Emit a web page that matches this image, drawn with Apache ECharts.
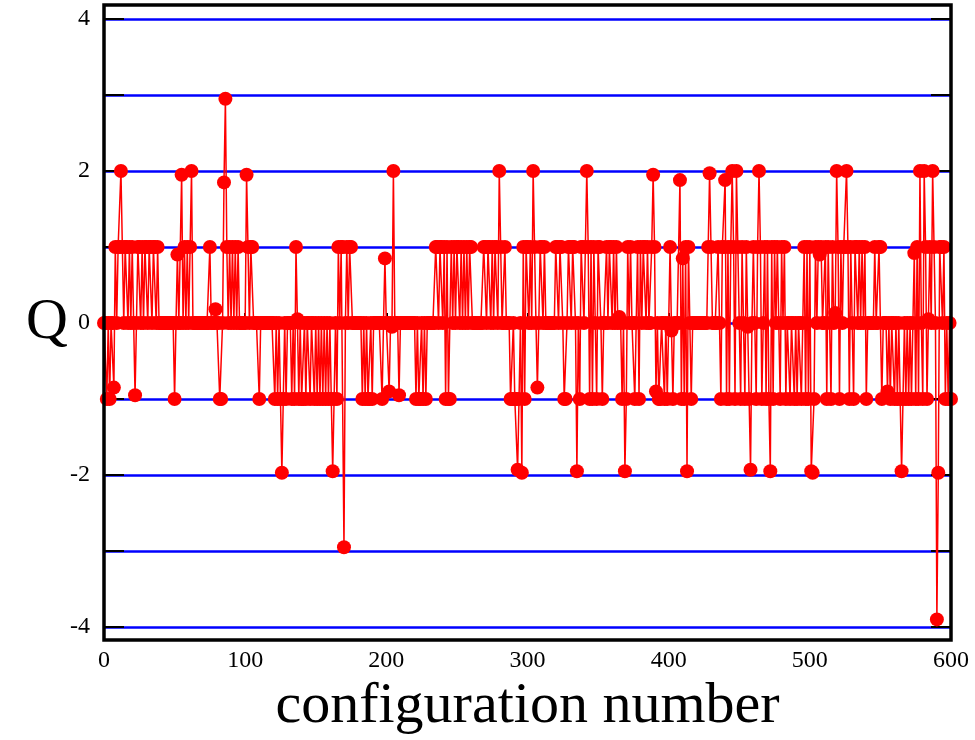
<!DOCTYPE html>
<html>
<head>
<meta charset="utf-8">
<script src="https://cdn.jsdelivr.net/npm/echarts@6/dist/echarts.min.js"></script>
<style>html,body{margin:0;padding:0;background:#fff;}#c{width:975px;height:740px;}</style>
</head>
<body>
<div id="c"></div>
<script>
// Topological charge Q per configuration (configuration number = index 0..600)
const qValues = [
  0, 0, -1, 0, -1, 0, 0, -0.85, 1, 0,
  1, 1, 2, 1, 0, 1, 1, 0, 1, 0,
  1, 0, -0.95, 0, 1, 1, 0, 1, 0, 1,
  1, 0, 1, 1, 0, 1, 1, 0, 1, 0,
  0, 0, 0, 0, 0, 0, 0, 0, 0, 0,
  -1, 0, 0.9, 0, 0, 1.95, 0, 1, 0, 1,
  0, 1, 2, 0, 0, 0, 0, 0, 0, 0,
  0, 0, 0, 0, 0, 1, 0, 0, 0, 0.18,
  0, 0, -1, -1, 0, 1.85, 2.95, 1, 0, 1,
  0, 1, 0, 1, 0, 1, 0, 0, 0, 0,
  0, 1.95, 1, 0, 1, 1, 0, 0, 0, 0,
  -1, 0, 0, 0, 0, 0, 0, 0, 0, 0,
  0, -1, 0, -1, 0, -1, -1.97, -1, 0, -1,
  0, 0, 0, -1, 0, -1, 1, 0.05, -1, 0,
  -1, -1, 0, -1, 0, 0, -1, 0, 0, -1,
  0, -1, 0, -1, 0, -1, 0, -1, 0, -1,
  0, -1, -1.95, -1, 0, -1, 1, 0, 1, 1,
  -2.95, 0, 1, 0, 1, 1, 0, 0, 0, 0,
  0, 0, 0, -1, 0, -1, 0, -1, -1, 0,
  -1, 0, 0, 0, 0, 0, 0, -1, 0, 0.85,
  0, 0, -0.9, 0, -0.05, 2, 0, 0, 0, -0.95,
  0, 0, 0, 0, 0, 0, 0, 0, 0, 0,
  0, -1, 0, -1, -1, 0, -1, 0, -1, 0,
  0, 0, 0, 0, 0, 1, 1, 0, 1, 1,
  0, 1, -1, 1, -1, -1, 1, 0, 1, 0,
  1, 1, 0, 1, 0, 1, 0, 1, 0, 1,
  1, 0, 0, 0, 0, 0, 0, 0, 0, 1,
  1, 0, 1, 1, 0, 1, 0, 1, 1, 0,
  2, 1, 0, 0, 1, 0, 0, 0, -1, -1,
  0, -1, -1, -1.93, -1, 0, -1.97, 1, -1, 1,
  1, 0, 1, 0, 2, 1, 0, -0.85, 0, 1,
  1, 0, 1, 0, 0, 0, 0, 0, 0, 0,
  1, 1, 0, 1, 1, 0, -1, -1, 0, 1,
  1, 0, 1, 1, 0, -1.95, 0, -1, 1, 1,
  0, 1, 2, 1, -1, 1, -1, 1, 0, -1,
  1, 1, 0, -1, 0, 0, 1, 0, 1, 1,
  0, 1, 0, 1, 0, 0.08, 0, -1, 0, -1.95,
  -1, 1, 0, 1, 0, 0, -1, 0, 1, -1,
  1, 0, 1, 1, 0, 1, 0, 0, 1, 1.95,
  1, -0.9, 0, -1, -1, 0, 0, -1, 0, -1,
  0, 1, -0.1, -1, 0, 0, 0, 0, 1.88, -1,
  0.85, -1, 1, -1.95, 1, 0, -1, 0, 0, 0,
  0, 0, 0, 0, 0, 0, 0, 0, 1, 1.97,
  1, 0, 0, 0, 0, 1, 0, -1, 1, 1,
  1.88, -1, 1, -1, 1, 2, 1, -1, 2, 1,
  0, -1, 1, 0, -1, 1, -0.05, -1, -1.93, 0,
  1, 0, -1, 1, 2, 1, -1, 0, 1, -1,
  1, -1, -1.95, 1, -1, 1, 0, 1, 0, -1,
  1, 0, 1, -1, 0, 0, -1, 0, 0, -1,
  0, -1, 0, 0, -1, 0, 1, -1, 1, -1,
  1, -1.95, -1.97, -1, 1, 0, 1, 0.9, 1, 0,
  0, 1, -1, 1, 0, -1, 1, 0, 0.13, 2,
  1, -1, 1, 0, 1, 1, 2, 1, -1, 1,
  0, -1, 1, 1, 0, 1, 0, 1, 0, 1,
  -1, 0, 0, 0, 0, 0, 1, 0, 0, 1,
  1, -1, 0, 0, 0, -0.9, 0, -1, 0, 0,
  -1, 0, -1, 0, -1, -1.95, -1, 0, -1, 0,
  -1, 0, -1, 0, 0.92, -1, 1, -1, 2, 0,
  -1, 2, 1, -1, 0.05, 1, 0, 2, 1, 0,
  -3.9, -1.97, 1, 1, 0, 1, -1, 0, -1, 0,
  -1
];
const xTickValues = [0, 100, 200, 300, 400, 500, 600];
const yTickLabels = [-4, -2, 0, 2, 4];

const seriesData = qValues.map((q, i) => [i, q]);

const chart = echarts.init(document.getElementById('c'), null, {renderer: 'canvas'});
const serif = '"Liberation Serif", "DejaVu Serif", serif';

chart.setOption({
  animation: false,
  backgroundColor: '#ffffff',
  grid: [
    // frame
    {left: 104, right: 24, top: 5, bottom: 100, show: true, borderColor: '#000', borderWidth: 3.5, z: 10,
     containLabel: false, outerBoundsMode: 'none'},
    // data area
    {left: 104, right: 24, top: 19, bottom: 113, show: false,
     containLabel: false, outerBoundsMode: 'none'}
  ],
  xAxis: [
    {gridIndex: 0, type: 'value', min: 0, max: 600, show: false},
    {
      gridIndex: 1, type: 'value', min: 0, max: 600, interval: 100,
      offset: 13,
      axisLine: {show: false},
      axisTick: {show: true, inside: true, length: 10, lineStyle: {color: '#000', width: 2}},
      splitLine: {show: false},
      axisLabel: {
        fontFamily: serif, fontSize: 24, color: '#000', margin: 9,
        formatter: v => (xTickValues.indexOf(v) >= 0 ? String(v) : '')
      },
      name: 'configuration number', nameLocation: 'middle', nameGap: 38,
      nameTextStyle: {fontFamily: serif, fontSize: 58, color: '#000'}
    }
  ],
  yAxis: [
    {gridIndex: 0, type: 'value', min: 0, max: 1, show: false},
    {
      gridIndex: 1, type: 'value', min: -4, max: 4, interval: 1,
      axisLine: {show: false},
      axisTick: {show: true, inside: true, length: 20, lineStyle: {color: '#000', width: 2}},
      splitLine: {show: true, lineStyle: {color: '#0000ff', width: 2.5}},
      axisLabel: {
        fontFamily: serif, fontSize: 24, color: '#000', margin: 14,
        formatter: v => (yTickLabels.indexOf(v) >= 0 ? String(v) : '')
      },
      name: 'Q', nameLocation: 'middle', nameGap: 36, nameRotate: 0, nameMoveOverlap: false,
      nameTextStyle: {fontFamily: serif, fontSize: 58, color: '#000'}
    },
    {
      gridIndex: 1, type: 'value', min: -4, max: 4, interval: 1, position: 'right',
      axisLine: {show: false},
      axisTick: {show: true, inside: true, length: 20, lineStyle: {color: '#000', width: 2}},
      splitLine: {show: false},
      axisLabel: {show: false}
    }
  ],
  series: [{
    type: 'line',
    xAxisIndex: 1, yAxisIndex: 1,
    data: seriesData,
    symbol: 'circle', symbolSize: 14,
    showAllSymbol: true,
    itemStyle: {color: '#ff0000'},
    lineStyle: {color: '#ff0000', width: 1.5},
    z: 5
  }]
});
</script>
</body>
</html>
